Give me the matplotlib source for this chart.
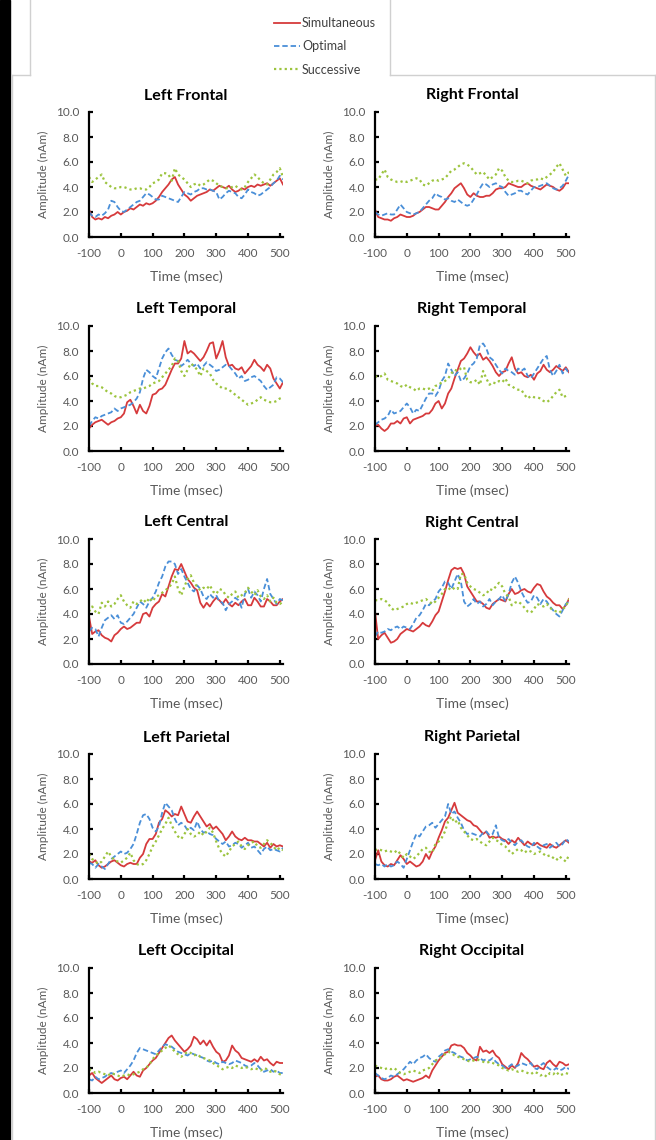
import matplotlib
matplotlib.use("Agg")
import matplotlib.pyplot as plt
from matplotlib.lines import Line2D
from matplotlib.patches import Rectangle

plt.rcParams["font.family"] = ["Lato", "DejaVu Sans"]
plt.rcParams["axes.unicode_minus"] = False

# time axis (msec)
time = [-100, -90, -80, -70, -60, -50, -40, -30, -20, -10,
        0, 10, 20, 30, 40, 50, 60, 70, 80, 90,
        100, 110, 120, 130, 140, 150, 160, 170, 180, 190,
        200, 210, 220, 230, 240, 250, 260, 270, 280, 290,
        300, 310, 320, 330, 340, 350, 360, 370, 380, 390,
        400, 410, 420, 430, 440, 450, 460, 470, 480, 490,
        500, 510]

series_names = ["Simultaneous", "Optimal", "Successive"]

# Left Frontal
lf_sim = [2.2, 1.6, 1.4, 1.5, 1.4, 1.6, 1.5, 1.7, 1.8, 2.0,
          1.8, 2.0, 2.1, 2.3, 2.2, 2.4, 2.6, 2.5, 2.7, 2.6,
          2.7, 2.9, 3.2, 3.6, 3.9, 4.2, 4.6, 4.8, 4.2, 3.8,
          3.4, 3.2, 2.9, 3.1, 3.3, 3.4, 3.5, 3.6, 3.8, 3.7,
          3.9, 4.1, 4.0, 3.9, 4.1, 3.8, 3.6, 3.7, 3.9, 3.8,
          4.0, 4.1, 4.0, 4.2, 4.1, 4.2, 4.3, 4.1, 4.3, 4.5,
          4.7, 4.2]
lf_opt = [2.0, 1.7, 1.6, 1.8, 1.7, 1.9, 2.2, 2.9, 2.8, 2.4,
          2.1, 2.0, 2.2, 2.4, 2.6, 2.8, 2.9, 3.2, 3.5, 3.4,
          3.2, 3.0, 3.0, 3.3, 3.2, 3.1, 3.0, 2.9, 2.8, 3.2,
          3.6, 3.5, 3.4, 3.6, 3.7, 3.9, 3.9, 3.8, 3.8, 3.7,
          3.6, 3.0, 3.2, 3.5, 3.7, 3.6, 3.5, 3.2, 3.1, 3.4,
          3.8, 3.6, 3.5, 3.3, 3.4, 3.6, 3.8, 4.0, 4.3, 4.5,
          4.9, 4.6]
lf_suc = [4.8, 4.4, 4.6, 4.8, 5.0, 4.4, 4.2, 4.0, 3.9, 3.9,
          4.0, 4.0, 3.9, 3.8, 3.8, 3.9, 3.9, 3.8, 3.8, 4.0,
          4.3, 4.4, 4.6, 5.1, 5.1, 5.0, 4.5, 5.5, 5.0, 4.8,
          4.6, 4.3, 4.0, 4.2, 4.3, 4.1, 4.2, 4.4, 4.6, 4.5,
          4.3, 4.1, 4.0, 3.9, 3.9, 4.0, 4.1, 3.9, 3.8, 4.0,
          4.4, 4.7, 5.0, 4.8, 4.5, 4.3, 4.2, 4.6, 5.0, 5.2,
          5.5, 4.8]

# Right Frontal
rf_sim = [2.2, 1.6, 1.5, 1.4, 1.4, 1.3, 1.5, 1.6, 1.8, 1.7,
          1.6, 1.6, 1.7, 1.9, 2.0, 2.2, 2.4, 2.4, 2.3, 2.2,
          2.2, 2.5, 2.8, 3.2, 3.5, 3.9, 4.1, 4.3, 3.9, 3.4,
          3.2, 3.5, 3.3, 3.2, 3.2, 3.3, 3.3, 3.5, 3.8, 3.9,
          3.9, 4.0, 4.3, 4.2, 4.1, 4.0, 4.0, 4.2, 4.3, 4.1,
          4.0, 3.9, 3.8, 4.0, 4.2, 4.1, 4.0, 3.8, 3.7, 3.9,
          4.3, 4.3]
rf_opt = [2.0, 1.8, 1.7, 1.8, 1.9, 1.8, 1.8, 2.2, 2.6, 2.3,
          2.0, 1.9, 1.8, 1.9, 2.0, 2.3, 2.6, 2.9, 3.1, 3.5,
          3.3, 3.2, 3.0, 3.1, 2.9, 2.8, 3.0, 2.8, 2.6, 2.5,
          2.6, 3.0, 3.4, 3.9, 4.3, 4.2, 4.0, 4.2, 4.3, 4.1,
          4.0, 3.6, 3.3, 3.4, 3.5, 3.7, 3.7, 3.5, 3.4, 3.7,
          4.0, 4.0, 4.1, 4.2, 4.3, 4.1, 3.9, 3.8, 3.9, 4.1,
          4.5, 5.0]
rf_suc = [4.6, 4.6, 5.0, 5.4, 4.8, 4.6, 4.5, 4.4, 4.4, 4.5,
          4.4, 4.5, 4.6, 4.7, 4.6, 4.2, 4.1, 4.3, 4.5, 4.6,
          4.5, 4.6, 4.7, 5.0, 5.3, 5.4, 5.6, 5.8, 5.9, 5.8,
          5.6, 5.3, 5.0, 5.1, 5.2, 4.9, 4.6, 4.8, 5.0, 5.5,
          5.3, 4.8, 4.5, 4.4, 4.4, 4.5, 4.5, 4.4, 4.3, 4.5,
          4.6, 4.6, 4.7, 4.6, 4.8, 5.0, 5.2, 5.6, 5.9, 5.4,
          4.9, 5.2]

# Left Temporal
lt_sim = [1.8, 2.1, 2.3, 2.4, 2.5, 2.3, 2.1, 2.3, 2.4, 2.6,
          2.7, 3.0, 3.9, 4.1, 3.6, 3.0, 3.7, 3.2, 3.0, 3.6,
          4.5, 4.6, 4.9, 5.0, 5.3, 5.9, 6.5, 7.0, 7.0, 7.4,
          8.8, 7.8, 8.0, 7.8, 7.5, 7.2, 7.5, 8.0, 8.6, 8.7,
          7.4, 8.0, 8.8, 7.5, 6.8, 6.9, 6.6, 6.5, 6.7, 6.2,
          6.5, 6.8, 7.3, 6.9, 6.7, 6.4, 6.9, 6.6, 5.8, 5.4,
          5.0, 5.5]
lt_opt = [2.0, 2.4, 2.7, 2.6, 2.8, 2.9, 3.0, 3.1, 3.4, 3.2,
          3.4, 3.5, 3.6, 3.7, 3.9, 4.2, 4.7, 5.8, 6.5, 6.3,
          6.0, 5.8, 6.6, 7.4, 7.9, 8.2, 7.7, 7.3, 7.2, 6.8,
          7.0, 7.3, 7.0, 6.8, 7.0, 6.6, 6.8, 7.1, 6.9, 6.7,
          6.4, 6.5, 6.7, 6.9, 6.8, 6.5, 6.2, 5.8, 6.0, 5.6,
          5.7, 5.9, 6.0, 5.8, 5.6, 5.2, 4.9, 5.1, 5.3, 5.9,
          5.8, 5.5]
lt_suc = [5.8, 5.4, 5.2, 5.2, 5.1, 4.9, 4.7, 4.6, 4.4, 4.3,
          4.3, 4.4, 4.5, 4.7, 4.8, 4.9, 5.0, 5.0, 5.1, 5.2,
          5.4, 5.5, 5.6, 5.9, 6.2, 6.5, 6.8, 7.4, 7.2, 6.4,
          6.0, 6.5, 7.0, 6.8, 6.5, 6.0, 6.6, 6.4, 6.2, 5.7,
          5.4, 5.2, 5.0, 5.0, 4.9, 4.7, 4.5, 4.3, 4.1, 3.9,
          3.7, 3.8, 3.9, 4.1, 4.3, 4.1, 4.0, 3.9, 3.9, 4.0,
          4.2, 4.3]

# Right Temporal
rt_sim = [2.0, 2.1, 1.8, 1.6, 1.8, 2.2, 2.2, 2.4, 2.2, 2.6,
          2.7, 2.2, 2.5, 2.6, 2.7, 2.8, 3.0, 3.0, 3.3, 3.8,
          4.0, 3.4, 3.8, 4.6, 5.0, 5.8, 6.5, 7.2, 7.4, 7.8,
          8.3, 7.9, 7.6, 7.8, 7.3, 7.5, 7.2, 6.8, 6.3, 6.0,
          6.3, 6.4, 7.0, 7.5, 6.6, 6.2, 6.3, 6.0, 5.9, 6.1,
          5.7, 6.2, 6.4, 6.9, 6.5, 6.3, 6.5, 6.8, 6.6, 6.4,
          6.7, 6.3]
rt_opt = [2.1, 2.3, 2.5, 2.6, 2.8, 3.3, 3.0, 3.1, 3.2, 3.5,
          3.8, 3.5, 3.0, 3.3, 3.2, 3.7, 4.2, 4.6, 4.6, 4.4,
          4.8, 5.6, 6.0, 7.0, 6.5, 6.0, 6.3, 5.6, 5.8, 6.2,
          6.8, 7.0, 7.4, 8.5, 8.6, 8.2, 7.5, 7.3, 6.9, 6.5,
          6.2, 6.6, 6.4, 6.3, 6.1, 6.6, 6.4, 6.6, 6.0, 5.8,
          6.2, 6.6, 7.0, 7.4, 7.6, 6.5, 6.0, 6.4, 6.9, 6.2,
          6.6, 6.2]
rt_suc = [6.0, 5.9, 6.0, 6.2, 5.7, 5.6, 5.5, 5.4, 5.2, 5.1,
          5.3, 5.1, 5.0, 4.8, 5.0, 5.0, 4.9, 5.0, 4.8, 5.2,
          5.3, 5.5, 5.6, 5.8, 6.2, 6.5, 6.4, 6.6, 6.7, 5.7,
          5.5, 5.5, 5.7, 5.3, 6.4, 5.8, 5.3, 5.5, 5.4, 5.6,
          5.5, 5.8, 5.3, 5.2, 5.0, 4.9, 4.9, 4.5, 4.2, 4.4,
          4.3, 4.3, 4.2, 4.0, 3.9, 4.1, 4.4, 4.7, 4.9, 4.3,
          4.4, 4.5]

# Left Central
lc_sim = [3.8, 2.4, 2.6, 2.7, 2.3, 2.1, 2.0, 1.8, 2.3, 2.5,
          2.8, 3.0, 2.8, 2.9, 3.1, 3.3, 3.3, 4.0, 4.1, 3.8,
          4.5, 4.8, 5.0, 5.6, 5.4, 6.2, 7.0, 7.6, 7.5, 8.0,
          7.4, 6.8, 6.5, 6.1, 5.9, 4.9, 4.5, 4.9, 4.6, 5.0,
          5.3, 5.1, 4.8, 5.2, 4.8, 4.6, 4.9, 4.7, 5.0, 5.2,
          4.7, 4.7, 5.3, 5.0, 4.6, 4.6, 5.2, 5.0, 4.7, 4.7,
          5.0, 5.2]
lc_opt = [2.6, 2.9, 2.8, 2.2, 2.9, 3.5, 3.7, 3.9, 3.6, 3.9,
          3.3, 3.2, 3.4, 3.7, 4.0, 4.5, 5.0, 4.8, 4.5, 5.0,
          5.3, 5.8, 6.5, 7.0, 7.8, 8.2, 8.2, 8.0, 7.2, 7.6,
          7.0, 6.5, 6.0, 5.8, 6.3, 6.0, 5.4, 5.2, 5.6, 5.3,
          5.5, 5.0, 4.9, 4.3, 4.8, 5.0, 5.3, 5.1, 4.5, 5.6,
          6.0, 5.3, 5.8, 5.5, 5.0, 6.0, 6.8, 5.6, 5.2, 4.8,
          5.2, 5.1]
lc_suc = [4.2, 4.6, 4.2, 4.0, 4.9, 4.6, 5.0, 4.6, 4.8, 5.2,
          5.5, 5.0, 4.7, 4.5, 5.0, 4.8, 5.0, 5.2, 4.9, 5.3,
          5.0, 5.4, 5.5, 5.7, 5.9, 6.1, 6.4, 7.0, 6.0, 5.5,
          6.2, 6.8, 7.1, 6.5, 6.2, 5.9, 6.1, 6.0, 6.3, 5.8,
          5.6, 6.0, 5.9, 5.5, 5.3, 5.6, 5.8, 5.3, 5.5, 5.7,
          6.1, 5.8, 5.5, 5.9, 5.4, 5.2, 5.5, 5.0, 5.3, 4.9,
          4.8, 5.0]

# Right Central
rc_sim = [4.2, 2.0, 2.3, 2.5, 2.1, 1.7, 1.8, 2.0, 2.4, 2.6,
          2.8, 2.7, 2.6, 2.8, 3.0, 3.3, 3.1, 3.0, 3.4, 3.9,
          4.2, 5.0, 5.8, 6.7, 7.5, 7.7, 7.6, 7.7, 7.2, 6.2,
          5.8, 5.4, 5.0, 5.0, 4.8, 4.5, 4.4, 4.8, 5.0, 5.2,
          5.1, 5.0, 5.6, 6.0, 5.6, 5.7, 5.9, 6.0, 5.8, 5.7,
          6.1, 6.4, 6.3, 5.8, 5.4, 5.2, 4.9, 4.7, 4.7, 4.4,
          4.7, 5.2]
rc_opt = [2.2, 2.6, 2.5, 2.6, 2.8, 2.7, 2.9, 3.0, 2.8, 3.0,
          2.9, 2.8, 3.2, 3.7, 3.9, 4.3, 4.8, 4.7, 5.0, 5.2,
          5.8, 6.1, 6.6, 6.5, 6.0, 6.6, 7.2, 6.6, 5.0, 4.6,
          4.8, 5.2, 4.8, 5.0, 4.6, 4.8, 5.2, 4.7, 5.0, 5.2,
          5.5, 5.0, 5.6, 6.5, 7.0, 6.5, 5.8, 5.3, 4.9, 5.0,
          5.5, 5.3, 4.8, 5.2, 5.0, 4.6, 4.3, 4.0, 3.8, 4.3,
          4.8, 5.0]
rc_suc = [5.1, 5.1, 5.2, 5.1, 4.9, 4.5, 4.3, 4.4, 4.5, 4.6,
          4.8, 4.9, 4.8, 4.9, 5.0, 5.1, 5.2, 5.0, 4.8, 5.0,
          5.3, 5.6, 6.0, 6.1, 5.9, 6.1, 6.0, 7.2, 7.2, 6.5,
          6.2, 6.0, 5.9, 5.7, 5.5, 5.6, 6.0, 5.9, 6.2, 6.5,
          6.2, 5.6, 5.4, 4.7, 4.9, 5.0, 4.8, 4.5, 4.2, 4.1,
          4.4, 4.8, 4.7, 4.6, 4.8, 4.5, 4.3, 4.2, 4.1, 4.4,
          4.6, 5.2]

# Left Parietal
lp_sim = [1.4, 1.3, 1.5, 1.1, 0.9, 1.0, 1.2, 1.4, 1.5, 1.3,
          1.1, 1.0, 1.2, 1.3, 1.2, 1.2, 1.7, 2.0, 2.8, 3.2,
          3.2, 3.6, 4.5, 4.8, 5.5, 5.3, 5.0, 5.2, 5.1, 5.8,
          5.2, 4.6, 4.5, 5.0, 5.4, 5.0, 4.6, 4.2, 4.4, 4.0,
          4.2, 3.9, 3.6, 3.1, 3.4, 3.8, 3.4, 3.2, 3.1, 3.3,
          3.1, 3.1, 3.0, 3.0, 2.8, 2.6, 2.9, 2.5, 2.8, 2.6,
          2.7, 2.6]
lp_opt = [1.3, 1.2, 0.9, 1.2, 1.0, 0.8, 1.2, 1.6, 1.8, 2.0,
          2.2, 2.0, 2.1, 2.4, 2.8, 3.6, 4.5, 5.1, 5.2, 4.8,
          4.1, 3.8, 4.2, 5.3, 6.1, 5.8, 5.5, 4.8, 4.3, 4.5,
          4.3, 3.9, 4.1, 3.9, 4.6, 4.0, 3.7, 3.8, 3.6, 3.5,
          3.2, 3.0, 2.8, 3.0, 2.6, 2.7, 2.9, 2.8, 2.5, 2.7,
          2.9, 2.5, 2.6, 2.3, 2.0, 2.4, 2.6, 2.3, 2.4, 2.3,
          2.2, 2.5]
lp_suc = [2.0, 1.6, 1.4, 1.2, 1.4, 1.8, 2.2, 1.8, 1.5, 1.4,
          1.3, 1.5, 1.7, 2.1, 1.5, 1.2, 1.1, 1.2, 1.5, 2.0,
          2.6, 3.0, 3.5, 4.0, 4.4, 4.9, 4.3, 3.8, 3.4, 3.2,
          3.6, 4.0, 3.6, 3.4, 3.5, 3.8, 3.5, 3.8, 4.1, 3.7,
          3.0, 2.4, 2.0, 1.8, 2.2, 2.6, 2.8, 3.0, 2.6, 2.4,
          2.7, 2.9, 3.0, 2.6, 2.5, 2.8, 3.1, 2.9, 2.6, 2.3,
          2.5, 2.3]

# Right Parietal
rp_sim = [1.5, 2.3, 1.4, 1.1, 1.0, 1.2, 1.1, 1.5, 1.9, 1.6,
          1.2, 1.4, 1.2, 1.0, 1.1, 1.4, 2.0, 1.6, 2.2, 2.6,
          3.3, 3.9, 4.6, 4.9, 5.5, 6.1, 5.3, 5.1, 4.9, 4.7,
          4.6, 4.3, 4.2, 3.9, 3.6, 3.8, 3.3, 3.4, 3.3, 3.4,
          3.2, 3.1, 2.8, 3.1, 2.9, 3.3, 3.0, 2.7, 3.0, 2.8,
          2.7, 2.9, 2.7, 2.6, 2.5, 2.8, 2.6, 2.5, 2.7, 2.9,
          3.1, 2.9]
rp_opt = [1.2, 1.1, 1.2, 1.0, 1.2, 1.0, 1.1, 1.4, 1.2, 0.9,
          1.6, 2.3, 3.0, 3.6, 3.4, 3.8, 4.2, 4.3, 4.5, 4.1,
          4.4, 4.7, 5.0, 6.0, 5.2, 5.4, 4.9, 4.5, 3.9, 3.6,
          3.7, 3.6, 3.5, 3.4, 3.7, 3.8, 3.5, 3.6, 4.3, 3.3,
          3.1, 3.0, 3.2, 2.9, 2.7, 3.0, 3.1, 2.8, 2.6, 2.5,
          2.9, 2.6, 2.4, 2.7, 2.8, 2.5, 2.7, 2.9, 2.6, 2.8,
          3.2, 3.0]
rp_suc = [2.3, 2.4, 2.3, 2.2, 2.3, 2.2, 2.1, 2.3, 2.0, 1.7,
          2.0, 1.8, 1.6, 1.8, 2.1, 2.4, 2.5, 2.2, 2.1, 2.8,
          3.0, 3.3, 3.8, 4.6, 5.0, 4.5, 4.7, 4.1, 3.8, 3.5,
          3.2, 3.1, 3.2, 3.0, 2.8, 2.7, 3.0, 3.3, 3.1, 3.0,
          2.7, 2.6, 2.3, 2.0, 2.2, 2.4, 2.3, 2.1, 2.3, 2.2,
          2.0, 2.1, 2.2, 2.0, 1.8, 1.9, 1.7, 1.5, 1.8, 1.6,
          1.4, 1.9]

# Left Occipital
lo_sim = [1.4, 1.6, 1.2, 1.0, 0.8, 1.0, 1.2, 1.4, 1.1, 1.0,
          1.2, 1.3, 1.1, 1.4, 1.7, 1.4, 1.3, 1.8, 2.0, 2.3,
          2.6, 2.8, 3.2, 3.6, 4.0, 4.4, 4.6, 4.2, 3.9, 3.6,
          3.3, 3.5, 3.8, 4.5, 4.3, 3.9, 4.2, 3.8, 4.2, 3.7,
          3.3, 3.1, 2.5, 2.6, 3.0, 3.8, 3.4, 3.2, 2.8, 2.7,
          2.6, 2.5, 2.7, 2.5, 2.9, 2.6, 2.7, 2.4, 2.2, 2.5,
          2.4, 2.4]
lo_opt = [1.1, 1.0, 1.3, 1.1, 1.2, 1.3, 1.5, 1.6, 1.5, 1.7,
          1.8, 1.6, 1.9, 2.2, 2.6, 3.2, 3.6, 3.5, 3.4, 3.3,
          3.2, 3.1, 3.4, 3.7, 3.9, 3.8, 3.7, 3.5, 3.3, 3.2,
          3.1, 3.0, 3.2, 3.1, 3.0, 2.9, 2.8, 2.6, 2.5, 2.6,
          2.4, 2.3, 2.5, 2.4, 2.3, 2.4, 2.6, 2.5, 2.4, 2.2,
          2.1, 2.2, 2.4, 2.2, 1.9, 1.7, 1.8, 1.9, 1.7, 1.8,
          1.6, 1.6]
lo_suc = [1.9, 1.8, 1.6, 1.7, 1.6, 1.5, 1.4, 1.6, 1.5, 1.4,
          1.3, 1.4, 1.5, 1.4, 1.5, 1.6, 1.7, 1.9, 2.0, 2.3,
          2.7, 3.0, 3.2, 3.4, 3.6, 3.8, 3.6, 3.3, 3.1, 2.9,
          3.1, 3.3, 3.2, 3.0, 3.1, 2.9, 2.8, 2.7, 2.6, 2.4,
          2.2, 2.1, 1.9, 2.0, 2.1, 2.0, 2.2, 2.1, 2.0, 2.1,
          2.0, 1.9, 2.0, 1.9, 1.8, 2.0, 1.9, 1.7, 1.8, 1.7,
          1.5, 1.5]

# Right Occipital
ro_sim = [1.3, 1.4, 1.1, 1.0, 1.0, 1.1, 1.3, 1.4, 1.2, 1.0,
          1.1, 1.0, 0.9, 1.0, 1.1, 1.2, 1.4, 1.2, 1.8, 2.2,
          2.6, 2.9, 3.2, 3.3, 3.8, 3.9, 3.8, 3.8, 3.6, 3.2,
          3.0, 2.7, 2.6, 3.7, 3.3, 3.4, 3.2, 3.4, 3.0, 2.8,
          2.3, 2.1, 1.9, 2.2, 2.0, 2.4, 3.2, 2.9, 2.7, 2.4,
          2.1, 2.2, 2.0, 1.9, 2.4, 2.6, 2.3, 2.1, 2.5, 2.4,
          2.2, 2.3]
ro_opt = [1.6, 1.4, 1.2, 1.1, 1.2, 1.4, 1.3, 1.5, 1.7, 1.9,
          2.2, 2.5, 2.3, 2.6, 2.8, 2.9, 3.1, 2.8, 2.6, 2.5,
          2.9, 3.1, 3.4, 3.5, 3.3, 3.2, 3.0, 2.9, 2.8, 2.6,
          2.7, 2.8, 2.9, 2.8, 2.6, 2.7, 2.6, 2.8, 2.5, 2.3,
          2.2, 2.0, 2.1, 2.3, 2.1, 2.2, 2.4, 2.3, 2.2, 2.4,
          2.0, 1.9, 2.2, 2.4, 2.1, 1.9, 1.8, 2.0, 1.8, 1.9,
          2.1, 1.9]
ro_suc = [2.2, 2.1, 2.0, 1.9, 2.0, 1.9, 2.0, 1.8, 1.6, 1.5,
          1.6, 1.7, 1.8, 1.7, 1.6, 1.8, 1.9, 2.0, 2.3, 2.6,
          2.7, 2.9, 3.1, 3.3, 3.2, 3.0, 2.9, 2.8, 2.7, 2.6,
          2.5, 2.6, 2.7, 2.6, 2.5, 2.4, 2.5, 2.4, 2.3, 2.2,
          2.0, 1.9, 1.8, 1.9, 1.8, 1.7, 1.8, 1.7, 1.6, 1.5,
          1.7, 1.6, 1.4, 1.5, 1.3, 1.6, 1.5, 1.7, 1.4, 1.5,
          1.6, 1.5]

panels = [
    ("Left Frontal", lf_sim, lf_opt, lf_suc),
    ("Right Frontal", rf_sim, rf_opt, rf_suc),
    ("Left Temporal", lt_sim, lt_opt, lt_suc),
    ("Right Temporal", rt_sim, rt_opt, rt_suc),
    ("Left Central", lc_sim, lc_opt, lc_suc),
    ("Right Central", rc_sim, rc_opt, rc_suc),
    ("Left Parietal", lp_sim, lp_opt, lp_suc),
    ("Right Parietal", rp_sim, rp_opt, rp_suc),
    ("Left Occipital", lo_sim, lo_opt, lo_suc),
    ("Right Occipital", ro_sim, ro_opt, ro_suc),
]

colors = ["#d63a3c", "#4a8fd8", "#9cc43e"]
styles = ["-", (0, (3.0, 1.6)), (0, (1.0, 1.4))]
widths = [1.3, 1.3, 1.6]

W, H = 656, 1140
fig = plt.figure(figsize=(W / 100, H / 100), dpi=100)

# outer frame pieces (pixel coords)
fig.add_artist(Rectangle((0, 0), 10 / W, 1, transform=fig.transFigure,
                         color="black", zorder=0))
frame = "#d0d0d0"
for xs, ys in [([30, 30], [0, 75]), ([390, 390], [0, 75]),
               ([12, 30], [75, 75]), ([390, 655], [75, 75]),
               ([12, 12], [75, 1140]), ([655, 655], [75, 1140])]:
    fig.add_artist(Line2D([x / W for x in xs], [1 - y / H for y in ys],
                          transform=fig.transFigure, color=frame, lw=1.0))

col_left = [89, 375]
ax_w = 194
row_top = [112, 326, 539, 754, 968]
ax_h = 125

tick_col = "#595959"
first_lines = None
for i, (title, sim, opt, suc) in enumerate(panels):
    assert len(sim) == len(time) and len(opt) == len(time) and len(suc) == len(time), title
    r, c = divmod(i, 2)
    x0 = col_left[c]
    y0 = row_top[r] + ax_h
    ax = fig.add_axes([x0 / W, 1 - y0 / H, ax_w / W, ax_h / H])
    lines = []
    for vals, col, ls, lw in zip([sim, opt, suc], colors, styles, widths):
        ln, = ax.plot(time, vals, color=col, linestyle=ls, linewidth=lw)
        lines.append(ln)
    if first_lines is None:
        first_lines = lines
    ax.set_xlim(-100, 510)
    ax.set_ylim(0, 10)
    ax.set_xticks([-100, 0, 100, 200, 300, 400, 500])
    ax.set_yticks([0, 2, 4, 6, 8, 10])
    ax.set_yticklabels([f"{v:.1f}" for v in [0, 2, 4, 6, 8, 10]])
    for s in ["top", "right"]:
        ax.spines[s].set_visible(False)
    for s in ["left", "bottom"]:
        ax.spines[s].set_linewidth(1.6)
        ax.spines[s].set_color("black")
    ax.tick_params(axis="both", direction="in", length=3, width=1.6,
                   color="black", labelsize=8.5, labelcolor=tick_col)
    ax.tick_params(axis="y", pad=7)
    ax.tick_params(axis="x", pad=8)
    ax.set_title(title, fontsize=11.5, fontweight="bold", pad=9)
    ax.set_xlabel("Time (msec)", fontsize=10, color=tick_col, labelpad=8)
    ax.set_ylabel("Amplitude (nAm)", fontsize=8.5, color=tick_col, labelpad=5)

fig.legend(first_lines, series_names, loc="upper left",
           bbox_to_anchor=(274 / W, 1 - 17 / H), frameon=False,
           fontsize=9, handlelength=2.1, handletextpad=0.15,
           labelspacing=0.9, borderpad=0, borderaxespad=0, labelcolor="#404040")

fig.savefig("out.png", dpi=100)
